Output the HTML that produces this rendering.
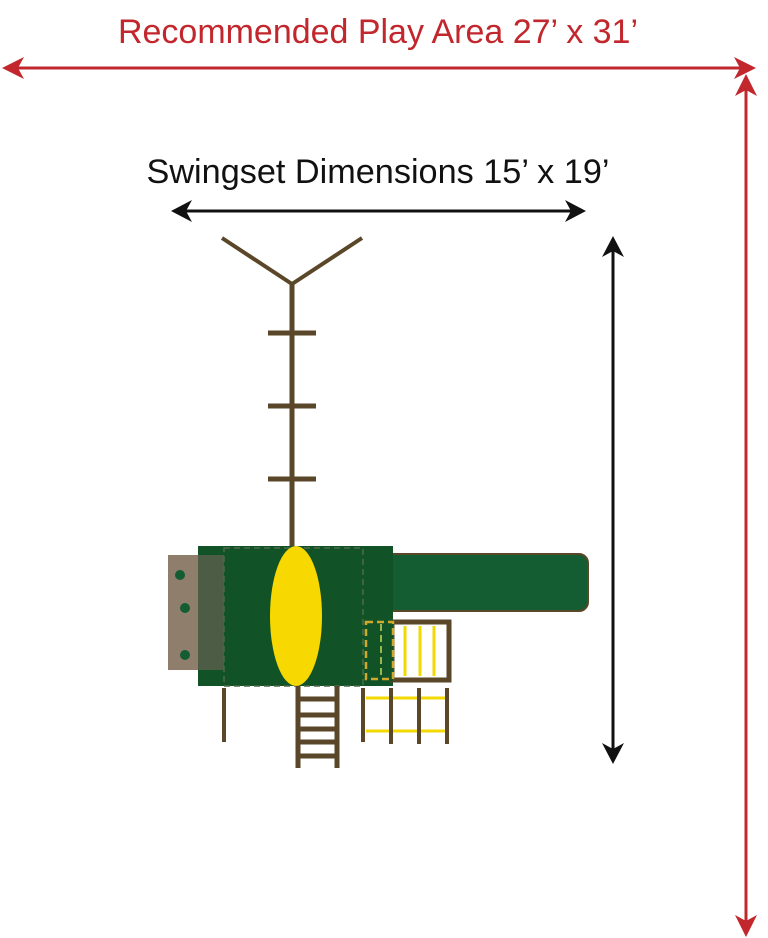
<!DOCTYPE html>
<html><head><style>
html,body{margin:0;padding:0;background:#fff;}
svg{display:block}
</style></head><body>
<svg width="768" height="938" viewBox="0 0 768 938" xmlns="http://www.w3.org/2000/svg">
<text x="378" y="43" text-anchor="middle" font-family="Liberation Sans, sans-serif" font-size="34" fill="#c1272d" textLength="520" lengthAdjust="spacingAndGlyphs">Recommended Play Area 27’ x 31’</text>
<line x1="8" y1="68" x2="748" y2="68" stroke="#c1272d" stroke-width="3"/>
<path d="M2,68 L24,57 L18,68 L24,79Z" fill="#c1272d"/>
<path d="M756,68 L734,57 L740,68 L734,79Z" fill="#c1272d"/>
<line x1="746" y1="82" x2="746" y2="930" stroke="#c1272d" stroke-width="3"/>
<path d="M746,74 L735,96 L746,90 L757,96Z" fill="#c1272d"/>
<path d="M746,937 L735,915 L746,921 L757,915Z" fill="#c1272d"/>
<text x="378" y="183" text-anchor="middle" font-family="Liberation Sans, sans-serif" font-size="34" fill="#111" textLength="463" lengthAdjust="spacingAndGlyphs">Swingset Dimensions 15’ x 19’</text>
<line x1="178" y1="211" x2="580" y2="211" stroke="#111" stroke-width="3"/>
<path d="M171,211 L192,200 L186,211 L192,222Z" fill="#111"/>
<path d="M586,211 L565,200 L571,211 L565,222Z" fill="#111"/>
<line x1="613" y1="244" x2="613" y2="757" stroke="#111" stroke-width="3"/>
<path d="M613,236 L602,257 L613,251 L624,257Z" fill="#111"/>
<path d="M613,764 L602,743 L613,749 L624,743Z" fill="#111"/>
<g stroke="#5a4628" stroke-width="5" fill="none">
<polyline points="222,238 292,284 362,238" stroke-width="4"/>
<line x1="292" y1="283" x2="292" y2="548"/>
<line x1="268" y1="333" x2="316" y2="333"/>
<line x1="268" y1="406" x2="316" y2="406"/>
<line x1="268" y1="479" x2="316" y2="479"/>
</g>
<rect x="168" y="555" width="40" height="115" fill="#8f7e6c"/>
<circle cx="180" cy="575" r="5" fill="#145c32"/>
<circle cx="185" cy="608" r="5" fill="#145c32"/>
<circle cx="185" cy="655" r="5" fill="#145c32"/>
<rect x="380" y="554" width="208" height="57" rx="9" fill="#145c32" stroke="#5a4628" stroke-width="2"/>
<rect x="198" y="546" width="195" height="140" fill="#115227"/>
<rect x="198" y="555" width="26" height="115" fill="#4c5c45"/>
<rect x="224" y="548" width="139" height="138" fill="none" stroke="#4f6a48" stroke-width="1.5" stroke-dasharray="6,4"/>
<ellipse cx="296" cy="616" rx="26" ry="70" fill="#f7d800"/>
<rect x="392" y="622" width="57" height="58" fill="#fff" stroke="#5a4628" stroke-width="5"/>
<rect x="365" y="620" width="28" height="61" fill="#115227"/>
<rect x="366" y="622" width="27" height="57" fill="none" stroke="#d0a92c" stroke-width="2.5" stroke-dasharray="7,4"/>
<line x1="381" y1="624" x2="381" y2="679" stroke="#9bb64c" stroke-width="2" stroke-dasharray="7,4"/>
<g stroke="#f2d900" stroke-width="3">
<line x1="405" y1="626" x2="405" y2="676"/>
<line x1="420" y1="626" x2="420" y2="676"/>
<line x1="434" y1="626" x2="434" y2="676"/>
<line x1="366" y1="698" x2="447" y2="698"/>
<line x1="366" y1="731" x2="447" y2="731"/>
</g>
<g stroke="#5a4628" stroke-width="4">
<line x1="224" y1="688" x2="224" y2="742"/>
<line x1="363" y1="688" x2="363" y2="742"/>
<line x1="391" y1="688" x2="391" y2="744"/>
<line x1="419" y1="688" x2="419" y2="744"/>
<line x1="447" y1="688" x2="447" y2="744"/>
<line x1="298" y1="686" x2="298" y2="768" stroke-width="5"/>
<line x1="337" y1="686" x2="337" y2="768" stroke-width="5"/>
<g stroke-width="5">
<line x1="298" y1="699" x2="337" y2="699"/>
<line x1="298" y1="715" x2="337" y2="715"/>
<line x1="298" y1="729" x2="337" y2="729"/>
<line x1="298" y1="742" x2="337" y2="742"/>
<line x1="298" y1="756" x2="337" y2="756"/>
</g>
</g>
</svg>
</body></html>
